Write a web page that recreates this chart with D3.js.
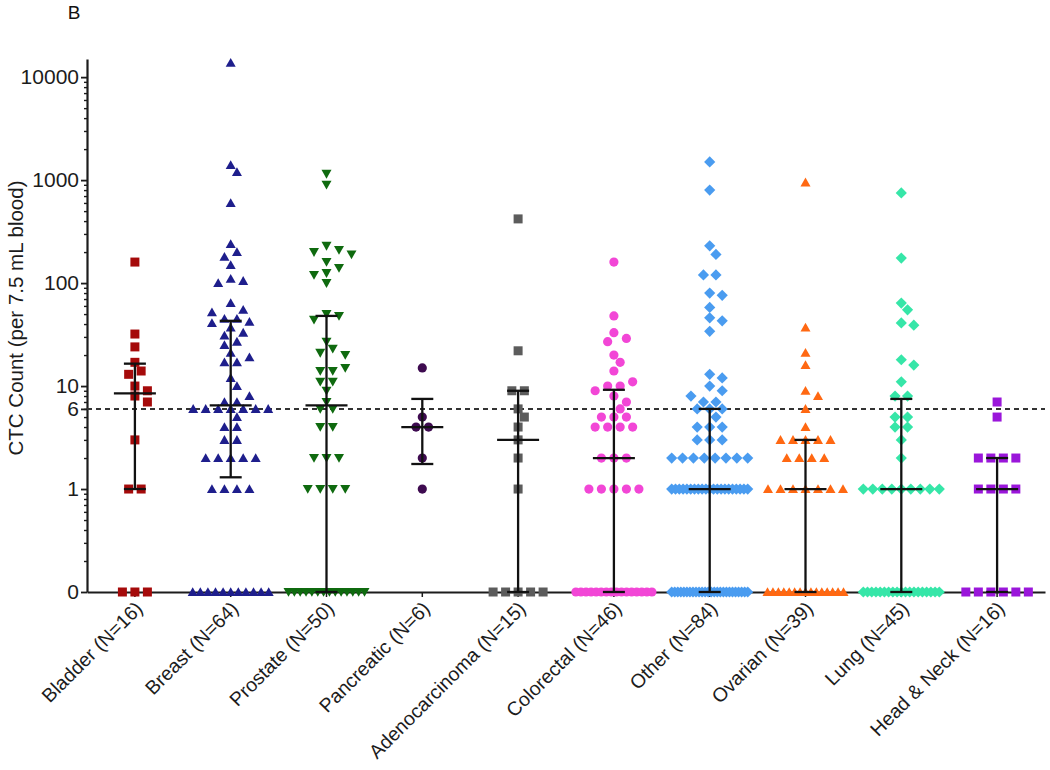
<!DOCTYPE html>
<html><head><meta charset="utf-8">
<script src="https://cdn.jsdelivr.net/npm/d3@7"></script>
<style>
body{margin:0;background:#fff}
svg{display:block}
text{font-family:"Liberation Sans",Arial,Helvetica,sans-serif}
</style>
</head><body>
<svg id="c" width="1050" height="770"></svg>
<script>
// ---------------- DATA ----------------
const categories = ["Bladder","Breast","Prostate","Pancreatic","Adenocarcinoma","Colorectal","Other","Ovarian","Lung","Head & Neck"];

const bladder = [160,32,24,17,14,13,10,9,8,7,3,1,1,0,0,0];
const breast = [13800,1400,1200,600,240,200,180,150,110,105,100,64,55,52,45,45,42,41,37,33,31,27,25,21,19,17,17,12,10,8,7,7,
  6,6,6,6,6,6,6,5,4,4,3,3,2,2,2,2,2,1,1,1,1,0,0,0,0,0,0,0,0,0,0,0];
const prostate = [1150,900,230,210,200,190,160,140,125,120,100,50,48,44,27,23,21,20,15,14,14,11,11,9,7,6,6,4,4,2,2,2,1,1,1,1,
  0,0,0,0,0,0,0,0,0,0,0,0,0,0];
const pancreatic = [15,5,4,4,2,1];
const adenocarcinoma = [420,22,9,9,6,5,4,3,2,1,0,0,0,0,0];
const colorectal = [160,48,33,29,27,20,17,14,11,10,10,9,8,7,6,5,5,5,4,4,4,4,2,2,2,1,1,1,1,1,
  0,0,0,0,0,0,0,0,0,0,0,0,0,0,0,0];
const other = [1500,800,230,190,120,120,80,76,58,46,43,34,13,12,10,9,8,7,7,6,6,6,5,4,4,4,3,3,3,2,2,2,2,2,2,2,2,
  1,1,1,1,1,1,1,1,1,1,1,1,1,1,1,1,1,1,1,1,1,
  0,0,0,0,0,0,0,0,0,0,0,0,0,0,0,0,0,0,0,0,0,0,0,0,0,0];
const ovarian = [950,37,21,16,9,8,6,4,3,3,3,3,3,2,2,2,2,1,1,1,1,1,1,1,0,0,0,0,0,0,0,0,0,0,0,0,0,0,0];
const lung = [750,175,64,55,41,39,18,16,11,8,8,5,5,4,4,3,2,1,1,1,1,1,1,1,1,1,
  0,0,0,0,0,0,0,0,0,0,0,0,0,0,0,0,0,0,0];
const headNeck = [7,5,2,2,2,2,1,1,1,1,0,0,0,0,0,0];

const medians = [8.5,6.5,6.5,4,3,2,1,1,1,1];
const q1 =      [1,1.3,0,1.75,0,0,0,0,0,0];
const q3 =      [16.5,43,48,7.5,9,9.2,6,3,7.5,2];

const threshold = 6;
const yTickValues = [0,1,6,10,100,1000,10000];
const yTickLabels = ["0","1","6","10","100","1000","10000"];
const yTitle = "CTC Count (per 7.5 mL blood)";
const panelLabel = "B";

// ---------------- STYLE ----------------
const seriesColors = ["#a50a0a","#1e1e8c","#0f6a0f","#3e0b50","#5c5c5c","#f246d6","#4a9cf0","#ff6812","#36e6a8","#9a16da"];
const seriesSymbols = ["square","triUp","triDown","circle","square","circle","diamond","triUp","diamond","square"];
const symbolPaths = {
  square: "M-4.5,-4.5h9v9h-9z",
  circle: "M4.6,0A4.6,4.6 0 1,1 -4.6,0A4.6,4.6 0 1,1 4.6,0Z",
  triUp: "M0,-4.8L5,4L-5,4Z",
  triDown: "M0,4.8L5,-4L-5,-4Z",
  diamond: "M0,-5.6L5.6,0L0,5.6L-5.6,0Z"
};
const allSeries = [bladder,breast,prostate,pancreatic,adenocarcinoma,colorectal,other,ovarian,lung,headNeck];

// ---------------- CHART ----------------
const svg = d3.select("#c");
const M = {left:87, right:1045, top:59, bottom:592};
const ZERO = 0.1;
const y = d3.scaleLog().domain([ZERO, 15000]).range([M.bottom, M.top]);
const yv = v => y(v === 0 ? ZERO : v);
const x = d3.scaleBand().domain(categories).range([M.left, M.right]);
const cx = c => x(c) + x.bandwidth()/2;
const ink = "#1c1c1c";

// panel label
svg.append("text").attr("x",74).attr("y",19).attr("text-anchor","middle")
  .style("font-size","19px").attr("fill","#111").text(panelLabel);

// y title
svg.append("text").attr("transform","translate(16,318) rotate(-90)")
  .attr("text-anchor","middle").attr("dy","0.35em").style("font-size","20.5px").attr("fill",ink).text(yTitle);

// minor ticks
const minor = [];
for (let e=-1;e<=4;e++) for (let k=2;k<=9;k++){ const v=k*Math.pow(10,e); if (v<15000) minor.push(v); }
svg.append("g").attr("transform",`translate(${M.left},0)`)
  .call(d3.axisLeft(y).tickValues(minor).tickSize(3).tickSizeOuter(0).tickFormat(""))
  .call(g=>g.select(".domain").remove())
  .call(g=>g.selectAll("line").attr("stroke",ink).attr("stroke-width",1.4));

// major y axis
svg.append("g").attr("transform",`translate(${M.left},0)`)
  .call(d3.axisLeft(y).tickValues(yTickValues.map(v=>v===0?ZERO:v)).tickSize(6).tickPadding(2).tickSizeOuter(0)
    .tickFormat((d,i)=>yTickLabels[i]))
  .call(g=>g.select(".domain").attr("stroke",ink).attr("stroke-width",2.2))
  .call(g=>g.selectAll(".tick line").attr("stroke",ink).attr("stroke-width",1.8))
  .call(g=>g.selectAll("text").attr("font-size",21).attr("fill",ink).attr("font-family",null));

// x axis
const xAxis = svg.append("g").attr("transform",`translate(0,${M.bottom})`)
  .call(d3.axisBottom(x).tickSize(5).tickSizeOuter(0).tickFormat((d,i)=>`${d} (N=${allSeries[i].length})`));
xAxis.select(".domain").attr("stroke",ink).attr("stroke-width",2.2);
xAxis.selectAll(".tick line").attr("stroke",ink).attr("stroke-width",1.5);
xAxis.selectAll("text").attr("font-size",19.5).attr("fill",ink).attr("font-family",null)
  .attr("text-anchor","end").attr("x",0).attr("y",0).attr("dy","0.35em")
  .attr("transform","translate(4,13) rotate(-45)");

// threshold dashed line
svg.append("line").attr("x1",M.left).attr("x2",M.right).attr("y1",y(threshold)).attr("y2",y(threshold))
  .attr("stroke","#333").attr("stroke-width",2).attr("stroke-dasharray","5,4");

// swarm layout
function swarm(vals){
  const groups = d3.rollups(vals, v=>v.length, d=>d).map(([v,k])=>({v,k,y:yv(v)}));
  groups.sort((a,b)=> b.k-a.k || b.v-a.v);
  const S=12.5, MAXW=76, R=9;
  const placed=[];
  for (const g of groups){
    const sp = g.k>1 ? Math.min(S, MAXW/(g.k-1)) : 0;
    const offs = d3.range(g.k).map(i=>(i-(g.k-1)/2)*sp);
    let shift=0;
    for (let j=0;j<60;j++){
      const cand = j===0 ? 0 : (j%2 ? 1 : -1)*Math.ceil(j/2)*S/2;
      const ok = offs.every(o=>placed.every(p=>Math.hypot(p.dx-(o+cand), p.y-g.y) >= R));
      if (ok){ shift=cand; break; }
    }
    offs.forEach(o=>placed.push({dx:o+shift, y:g.y, v:g.v}));
  }
  return placed;
}

allSeries.forEach((vals,i)=>{
  const px = cx(categories[i]);
  svg.append("g").selectAll("path").data(swarm(vals)).join("path")
    .attr("transform",p=>`translate(${px+p.dx},${p.y})`)
    .attr("d",symbolPaths[seriesSymbols[i]])
    .attr("fill",seriesColors[i]);
});

// median + IQR bars
const bars = svg.append("g").attr("stroke","#111").attr("stroke-width",2.3).attr("fill","none");
categories.forEach((c,i)=>{
  const px = cx(c);
  bars.append("line").attr("x1",px).attr("x2",px).attr("y1",yv(q1[i])).attr("y2",yv(q3[i]));
  bars.append("line").attr("x1",px-21).attr("x2",px+21).attr("y1",yv(medians[i])).attr("y2",yv(medians[i]));
  [q1[i],q3[i]].forEach(q=>bars.append("line").attr("x1",px-11).attr("x2",px+11).attr("y1",yv(q)).attr("y2",yv(q)));
});
</script>
</body></html>
